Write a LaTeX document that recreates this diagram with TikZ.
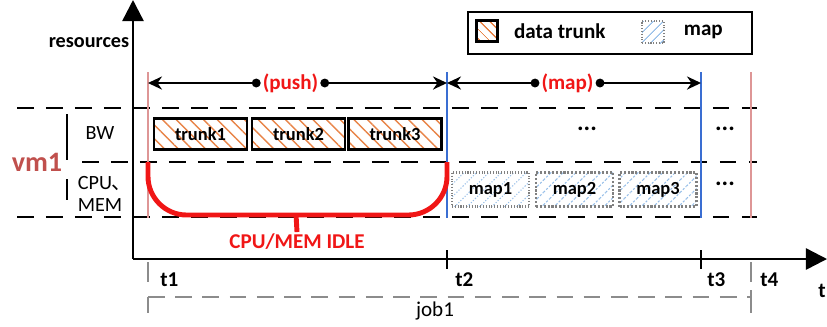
\documentclass[tikz,border=0pt]{standalone}
\usepackage{fontspec}
\setmainfont{Carlito}
\newfontfamily\cjk{Noto Sans CJK SC}
\usetikzlibrary{arrows.meta,patterns.meta,positioning}

\definecolor{idlered}{RGB}{240,22,22}
\definecolor{vmred}{RGB}{192,80,77}
\definecolor{markblue}{RGB}{58,110,210}
\definecolor{markpink}{RGB}{222,150,150}
\definecolor{trunkorange}{RGB}{232,132,72}
\definecolor{mapblue}{RGB}{150,190,232}
\definecolor{jobgray}{RGB}{140,140,140}

\begin{document}
\begin{tikzpicture}[x=0.02cm, y=-0.02cm, font=\fontsize{11.5}{13}\selectfont]
    % Styles
    \tikzstyle{axis} = [line width=1.4pt, -{Triangle[length=12pt,width=12pt]}]
    \tikzstyle{slot} = [line width=1.1pt, dash pattern=on 9.5pt off 7pt]
    \tikzstyle{span} = [line width=1pt, {Circle[length=5pt]}-{Stealth[length=8pt,width=7.5pt]}]
    \tikzstyle{phase} = [inner sep=1pt, text=idlered, font=\bfseries\fontsize{12}{14}\selectfont]
    \tikzstyle{trunkbox} = [draw, line width=1.3pt, minimum width=1.86cm, minimum height=0.62cm,
        pattern={Lines[angle=-45,distance=5.5pt,line width=0.8pt]}, pattern color=trunkorange,
        font=\bfseries\fontsize{10.5}{12}\selectfont]
    \tikzstyle{mapbox} = [draw=gray, densely dotted, line width=1.2pt, minimum width=1.54cm, minimum height=0.68cm,
        pattern={Lines[angle=45,distance=5pt,line width=0.6pt]}, pattern color=mapblue,
        font=\bfseries\fontsize{10.5}{12}\selectfont]
    \tikzstyle{tlabel} = [anchor=west, inner sep=0pt, font=\bfseries\fontsize{12}{14}\selectfont]
    \tikzstyle{more} = [font=\bfseries\fontsize{14}{14}\selectfont]
    \tikzstyle{idle} = [line width=2.8pt, idlered]

    \useasboundingbox (0,0) rectangle (827,326);

    % Time marks
    \coordinate (o) at (133,259);
    \foreach \n/\x in {1/148, 2/447, 3/701, 4/751} {
        \coordinate (top\n) at (\x,72);
        \coordinate (bot\n) at (\x,218);
        \coordinate (arr\n) at (\x,83);
        \coordinate (tick\n) at (\x,262);
    }

    % Resource rows
    \draw[slot] (17,108) -- (757,108);
    \draw[slot] (82,162) -- (757,162);
    \draw[slot] (17,217) -- (757,217);

    % Phase borders
    \draw[markpink, line width=0.7pt] (top1) -- (bot1);
    \draw[markpink, line width=0.7pt] (top4) -- (bot4);
    \draw[markblue, line width=1.6pt] (top2) -- (bot2);
    \draw[markblue, line width=1.6pt] (top3) -- (bot3);

    % Axes
    \draw[axis] (o) -- (133,0) coordinate (ytop);
    \draw[axis] (o) -- (827,259) coordinate (xend);
    \node[font=\bfseries\fontsize{11.5}{13}\selectfont] (res) at (89,43) {resources};
    \node[font=\bfseries\fontsize{12}{14}\selectfont] (taxis) at (822,291) {t};

    % Row labels
    \node (bw) at (100,133) {BW};
    \node[align=left] (cpu) at (105,194) {CPU{\cjk 、}\\MEM};
    \node[text=vmred, font=\bfseries\fontsize{16}{18}\selectfont] (vm) at (37,162) {vm1};
    \draw[line width=1.5pt] (67,114) -- (67,160);
    \draw[line width=1.5pt] (67,179) -- (67,200);

    % Nodes
    \node[trunkbox] (trunk1) at (200.5,134) {trunk1};
    \node[trunkbox] (trunk2) at (298.5,134) {trunk2};
    \node[trunkbox] (trunk3) at (395,134) {trunk3};
    \node[mapbox] (map1) at (490.5,189.5) {map1};
    \node[mapbox] (map2) at (574.5,189.5) {map2};
    \node[mapbox] (map3) at (658,189.5) {map3};
    \node[more] (dots1) at (587,129) {...};
    \node[more] (dots2) at (725,129) {...};
    \node[more] (dots3) at (725,184) {...};

    % Arrows
    \node[phase] (push) at (290.5,83) {(push)};
    \draw[span] (push.west) -- (arr1);
    \draw[span] (push.east) -- (arr2);
    \node[phase] (mapph) at (567.5,83) {(map)};
    \draw[span] (mapph.west) -- (arr2);
    \draw[span] (mapph.east) -- (arr3);

    % Idle CPU/MEM
    \coordinate (idleL) at (148,162);
    \coordinate (idleR) at (447,162);
    \coordinate (idlemid) at (296,214);
    \draw[idle, rounded corners=22pt] (idleL) -- (148,215) -- (447,215) -- (idleR);
    \node[text=idlered, font=\bfseries\fontsize{12}{14}\selectfont, inner sep=1pt] (idletxt) at (297,242) {CPU/MEM IDLE};
    \draw[idle] (idlemid) -- (idletxt.north);

    % Time axis labels
    \draw[line width=1.2pt] (447,250) -- (447,269);
    \draw[line width=1.2pt] (701,250) -- (701,269);
    \draw[jobgray, line width=0.8pt] (tick1) -- (148,282);
    \draw[jobgray, line width=0.8pt] (tick4) -- (751,282);
    \node[tlabel] (lt1) at (160,280) {t1};
    \node[tlabel] (lt2) at (455,280) {t2};
    \node[tlabel] (lt3) at (707,280) {t3};
    \node[tlabel] (lt4) at (760,280) {t4};

    % Job span
    \coordinate (jobL) at (148,297);
    \coordinate (jobR) at (751,297);
    \draw[jobgray, line width=1.1pt] (jobL) -- (148,313);
    \draw[jobgray, line width=1.1pt] (751,290) -- (751,313);
    \draw[jobgray, line width=1.1pt, dash pattern=on 9.5pt off 6pt] (jobL) -- (jobR);
    \node[font=\fontsize{12}{14}\selectfont] (job) at (435,311) {job1};

    % Legend
    \node[draw, line width=1.3pt, minimum width=5.68cm, minimum height=0.84cm] (legend) at (610,33) {};
    \node[draw, line width=1.5pt, minimum size=0.42cm, inner sep=0pt,
        pattern={Lines[angle=-45,distance=4pt,line width=0.8pt]}, pattern color=trunkorange] (legtrunk) at (487,31) {};
    \node[font=\bfseries\fontsize{12}{14}\selectfont, right=5.5pt of legtrunk] (legtrunktxt) {data trunk};
    \node[draw=gray, densely dotted, line width=1pt, minimum size=0.44cm, inner sep=0pt,
        pattern={Lines[angle=45,distance=4pt,line width=0.6pt]}, pattern color=mapblue] (legmap) at (653,32) {};
    \node[font=\bfseries\fontsize{12}{14}\selectfont, right=7.5pt of legmap] (legmaptxt) {map};
\end{tikzpicture}
\end{document}
